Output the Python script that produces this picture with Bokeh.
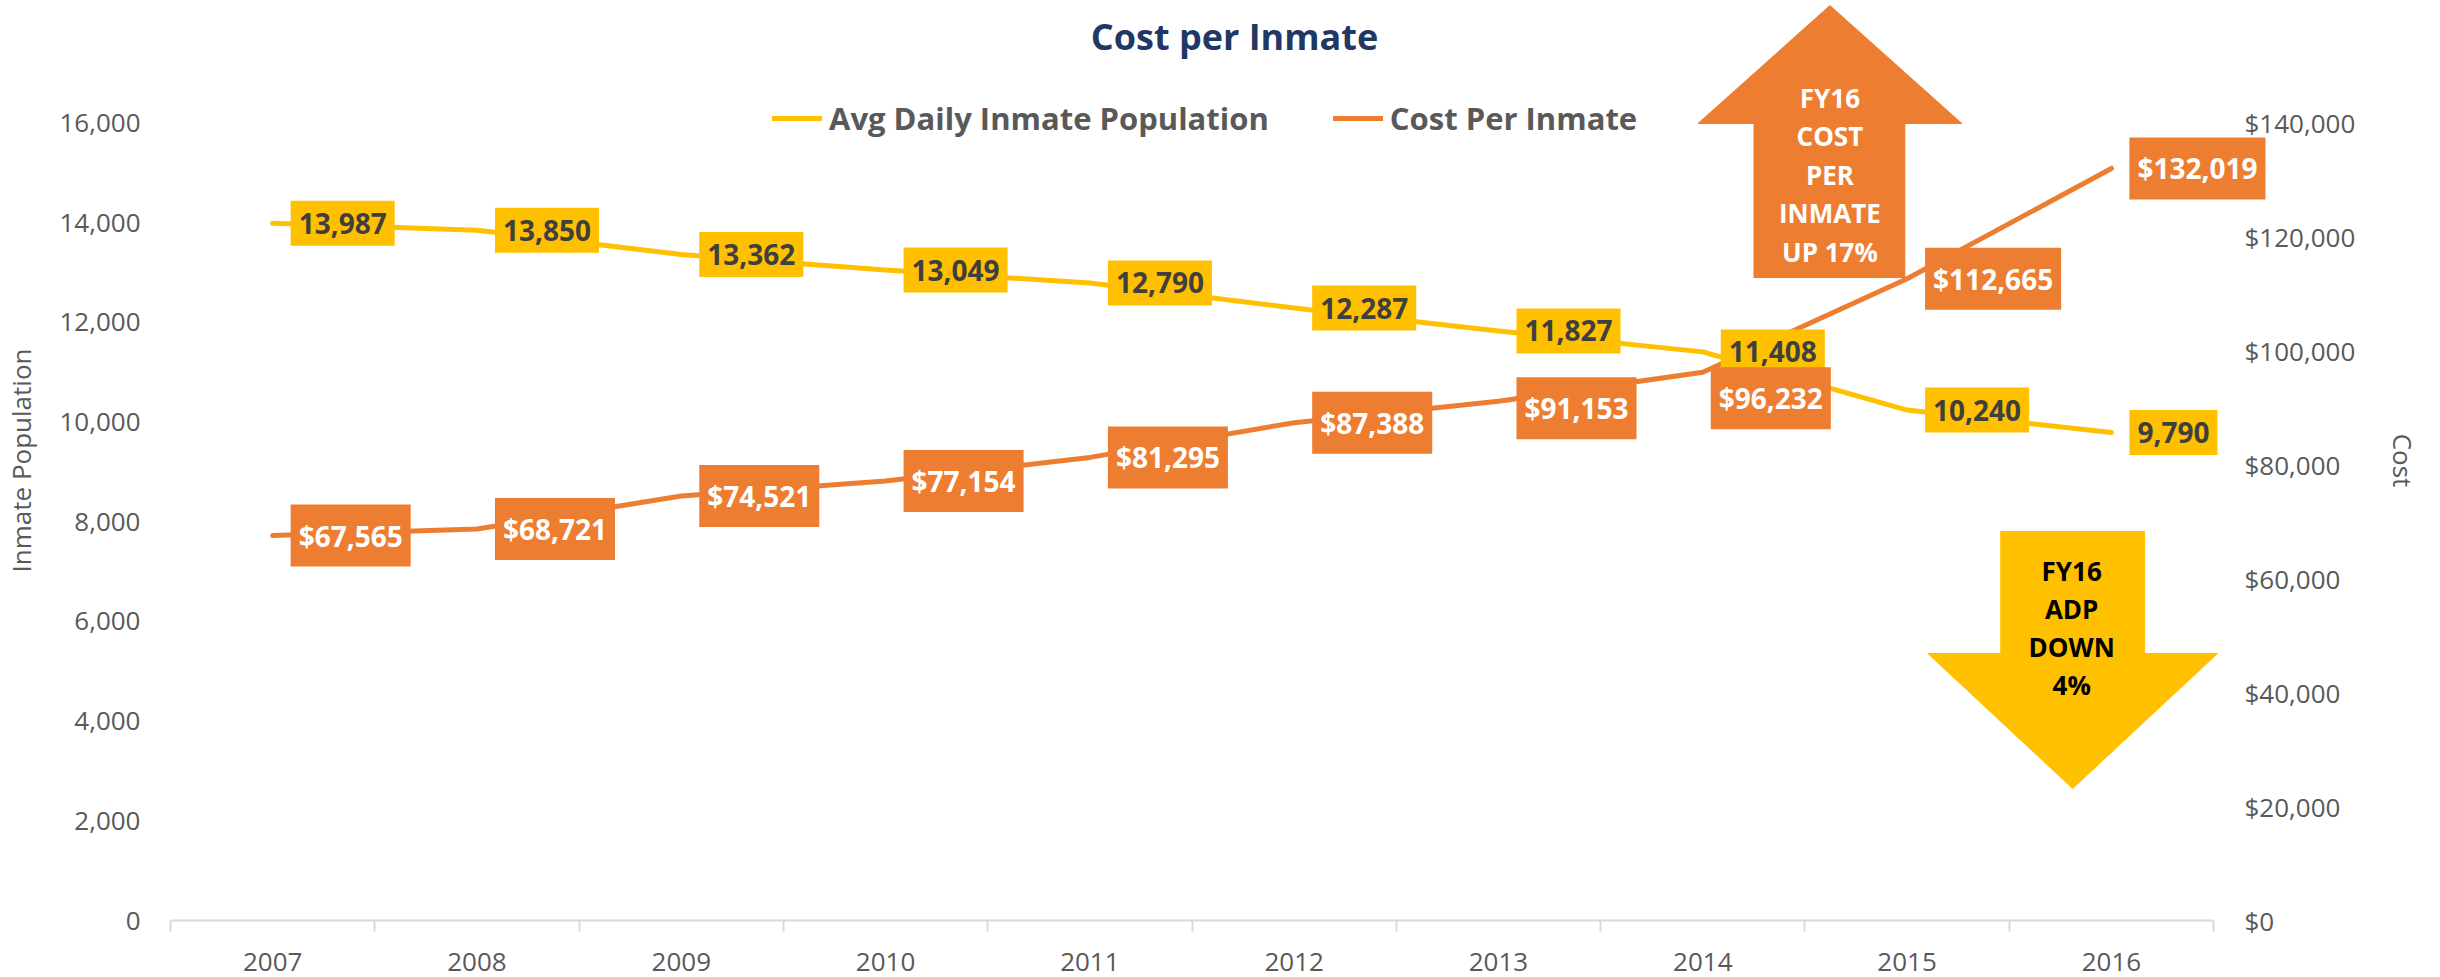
from bokeh.plotting import figure
from bokeh.models import (Range1d, LinearAxis, FixedTicker, NumeralTickFormatter,
                          Label, Legend, LegendItem)
from bokeh.embed import file_html
from bokeh.resources import INLINE

# ---------------- data ----------------
years = [2007, 2008, 2009, 2010, 2011, 2012, 2013, 2014, 2015, 2016]
population = [13987, 13850, 13362, 13049, 12790, 12287, 11827, 11408, 10240, 9790]
cost = [67565, 68721, 74521, 77154, 81295, 87388, 91153, 96232, 112665, 132019]
pop_ticks = [0, 2000, 4000, 6000, 8000, 10000, 12000, 14000, 16000]
cost_ticks = [0, 20000, 40000, 60000, 80000, 100000, 120000, 140000]
series_names = ["Avg Daily Inmate Population", "Cost Per Inmate"]
title_text = "Cost per Inmate"
up_arrow_lines = ["FY16", "COST", "PER", "INMATE", "UP 17%"]
down_arrow_lines = ["FY16", "ADP", "DOWN", "4%"]

# ---------------- styling / layout ----------------
FONT = "Open Sans"
YELLOW = "#FFC000"
ORANGE = "#ED7D31"
GREY = "#595959"
AXIS_GREY = "#D9D9D9"
NAVY = "#1F3864"

W, H = 2440, 977
FX0, FX1 = 168, 2213          # category axis start / end (px)
FRAME_RIGHT = 2272            # frame extends a bit past the axis so labels are not clipped
FY_ZERO, FY_TOP = 920, 122.5  # y of value 0 and of 16000 (px)
FRAME_TOP = 0

def dx(px):
    return years[0] - 0.5 + (px - FX0) / (FX1 - FX0) * len(years)

def dy(py):
    return (FY_ZERO - py) / (FY_ZERO - FY_TOP) * pop_ticks[-1]

y_end = dy(FRAME_TOP)
cost_end = y_end * cost_ticks[-1] / pop_ticks[-1]

p = figure(width=W, height=H, output_backend="svg", toolbar_location=None,
           x_range=Range1d(years[0] - 0.5, dx(FRAME_RIGHT)),
           y_range=Range1d(0, y_end),
           min_border_left=FX0, min_border_right=W - FRAME_RIGHT,
           min_border_top=FRAME_TOP, min_border_bottom=H - FY_ZERO)
p.extra_y_ranges = {"cost": Range1d(0, cost_end)}
p.outline_line_color = None
p.xgrid.visible = False
p.ygrid.visible = False
p.background_fill_color = "white"
p.border_fill_color = "white"

# x axis
xa = p.xaxis[0]
xa.bounds = (years[0] - 0.5, years[-1] + 0.5)
xa.ticker = FixedTicker(ticks=years, minor_ticks=[y - 0.5 for y in years] + [years[-1] + 0.5])
xa.axis_line_color = AXIS_GREY
xa.axis_line_width = 2
xa.major_tick_line_color = None
xa.major_tick_out = 0
xa.major_tick_in = 0
xa.minor_tick_line_color = AXIS_GREY
xa.minor_tick_line_width = 2
xa.minor_tick_in = 0
xa.minor_tick_out = 11
xa.major_label_text_font = FONT
xa.major_label_text_font_size = "26px"
xa.major_label_text_color = GREY
xa.major_label_standoff = 21

# left axis
ya = p.yaxis[0]
ya.bounds = (pop_ticks[0], pop_ticks[-1])
ya.ticker = FixedTicker(ticks=pop_ticks)
ya.formatter = NumeralTickFormatter(format="0,0")
ya.axis_line_color = None
ya.major_tick_line_color = None
ya.minor_tick_line_color = None
ya.major_tick_out = 0
ya.major_tick_in = 0
ya.major_label_standoff = 30
ya.major_label_text_font = FONT
ya.major_label_text_font_size = "26px"
ya.major_label_text_color = GREY
ya.axis_label = "Inmate Population"
ya.axis_label_text_font = FONT
ya.axis_label_text_font_size = "26px"
ya.axis_label_text_font_style = "normal"
ya.axis_label_text_color = GREY
ya.axis_label_standoff = 17

# right axis
ra = LinearAxis(y_range_name="cost", ticker=FixedTicker(ticks=cost_ticks),
                formatter=NumeralTickFormatter(format="$0,0"),
                bounds=(cost_ticks[0], cost_ticks[-1]))
ra.axis_line_color = None
ra.major_tick_line_color = None
ra.minor_tick_line_color = None
ra.major_tick_out = 0
ra.major_tick_in = 0
ra.major_label_standoff = 2244 - FRAME_RIGHT
ra.major_label_text_font = FONT
ra.major_label_text_font_size = "26px"
ra.major_label_text_color = GREY
ra.axis_label = "Cost"
ra.axis_label_text_font = FONT
ra.axis_label_text_font_size = "26px"
ra.axis_label_text_font_style = "normal"
ra.axis_label_text_color = GREY
ra.axis_label_standoff = 27
p.add_layout(ra, "right")

# lines
r_pop = p.line(years, population, line_color=YELLOW, line_width=5,
               line_join="round", line_cap="round")
r_cost = p.line(years, cost, line_color=ORANGE, line_width=5,
                line_join="round", line_cap="round", y_range_name="cost")

# arrows (shapes)
up_px = [(1829, 5), (1961, 123), (1904, 123), (1904, 277), (1753, 277), (1753, 123), (1697, 123)]
down_px = [(2000, 531), (2144, 531), (2144, 653), (2217, 653), (2072, 788), (1927, 653), (2000, 653)]
p.patch([dx(a) for a, b in up_px], [dy(b) for a, b in up_px],
        fill_color=ORANGE, line_color=ORANGE, line_width=1)
p.patch([dx(a) for a, b in down_px], [dy(b) for a, b in down_px],
        fill_color=YELLOW, line_color=YELLOW, line_width=1)

for i, t in enumerate(up_arrow_lines):
    p.add_layout(Label(x=dx(1829), y=dy(97 + 38.5 * i), text=t, text_align="center",
                       text_baseline="middle", text_font=FONT, text_font_size="26px",
                       text_font_style="bold", text_color="white"))
for i, t in enumerate(down_arrow_lines):
    p.add_layout(Label(x=dx(2071), y=dy(570 + 38.3 * i), text=t, text_align="center",
                       text_baseline="middle", text_font=FONT, text_font_size="26px",
                       text_font_style="bold", text_color="black"))

# data labels
for yr, v in zip(years, population):
    p.add_layout(Label(x=yr, y=v, text=f"{v:,}", x_offset=18, y_offset=0,
                       text_align="left", text_baseline="middle",
                       text_font=FONT, text_font_size="28px", text_font_style="bold",
                       text_color="#3F3F3F", background_fill_color=YELLOW,
                       padding=(8, 12)))

cost_dx = [18, 18, 18, 18, 18, 18, 18, 8, 18, 18]
cost_dy = [0, 0, 0, 0, 0, 0, -7, -26, 0, 0]
for yr, v, ox, oy in zip(years, cost, cost_dx, cost_dy):
    p.add_layout(Label(x=yr, y=v, text=f"${v:,}", y_range_name="cost",
                       x_offset=ox, y_offset=oy, text_align="left", text_baseline="middle",
                       text_font=FONT, text_font_size="28px", text_font_style="bold",
                       text_color="white", background_fill_color=ORANGE,
                       padding=(8, 12)))

# title
p.add_layout(Label(x=dx(1233), y=dy(36), text=title_text, text_align="center",
                   text_baseline="middle", text_font=FONT, text_font_size="36px",
                   text_font_style="bold", text_color=NAVY))

# legend
legend = Legend(items=[LegendItem(label=series_names[0], renderers=[r_pop]),
                       LegendItem(label=series_names[1], renderers=[r_cost])],
                orientation="horizontal", location=(775 - FX0 - 5, FY_ZERO - 118 - 21),
                glyph_width=50, glyph_height=20, label_standoff=7, spacing=64,
                padding=0, margin=0, border_line_color=None, background_fill_alpha=0,
                label_text_font=FONT, label_text_font_size="31px",
                label_text_font_style="bold", label_text_color=GREY)
p.add_layout(legend, "center")

open("out.html", "w").write(file_html(p, INLINE))
